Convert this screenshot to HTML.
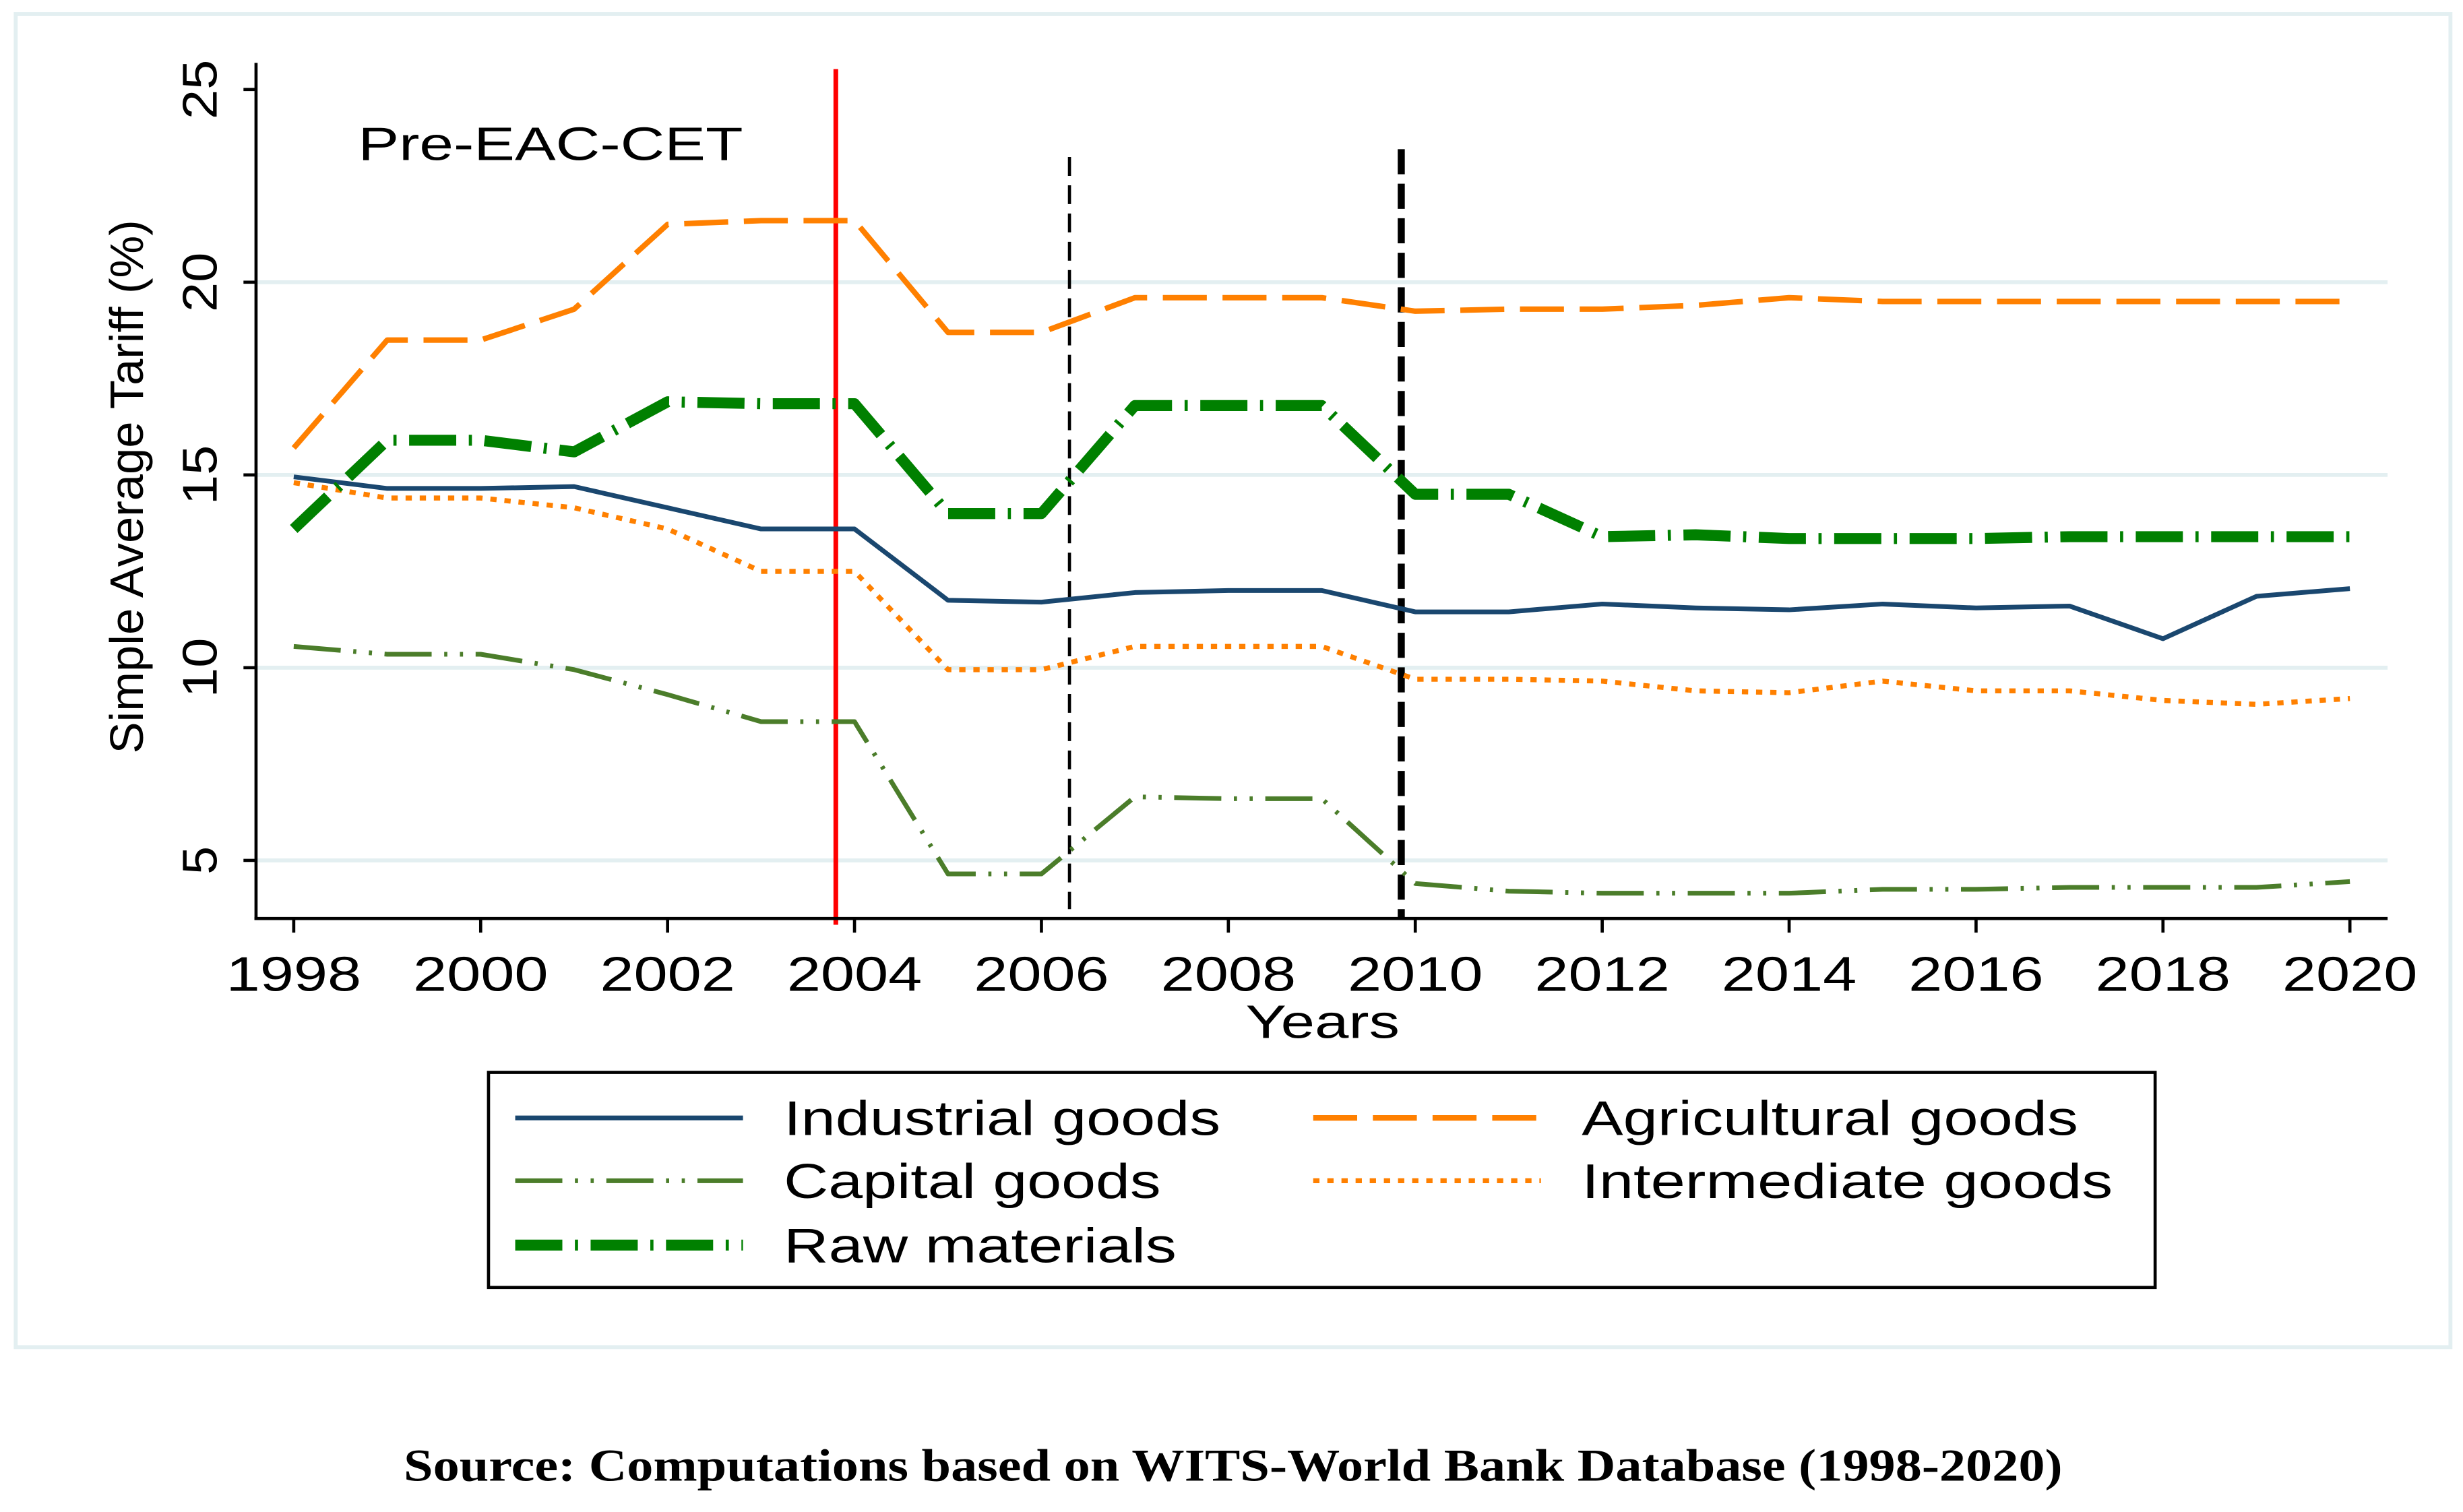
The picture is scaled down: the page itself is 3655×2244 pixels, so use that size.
<!DOCTYPE html>
<html><head><meta charset="utf-8"><style>
html,body{margin:0;padding:0;background:#fff;width:3655px;height:2244px;overflow:hidden}
svg{display:block}
text{font-family:"Liberation Sans",sans-serif;fill:#000}
</style></head><body>
<svg id="chart" width="3655" height="2244" viewBox="0 0 1568 963" preserveAspectRatio="none">
<rect x="10" y="9" width="1550" height="849" fill="#fff" stroke="#e3eff1" stroke-width="2.5"/>
<g id="grid"></g>
<g id="vlines"></g>
<g id="series"></g>
<g id="axes"></g>
<text x="228" y="102" font-size="30" textLength="245" lengthAdjust="spacingAndGlyphs">Pre-EAC-CET</text>
<text x="793" y="661" font-size="30" textLength="98" lengthAdjust="spacingAndGlyphs">Years</text>
<text transform="translate(91,480) rotate(-90)" font-size="30" textLength="340" lengthAdjust="spacingAndGlyphs">Simple Average Tariff (%)</text>
<g>
<rect x="311" y="683" width="1061" height="137" fill="#fff" stroke="#000" stroke-width="2"/>
<g id="legend"></g>
</g>
<text x="257" y="943" font-size="29" font-weight="bold" textLength="1056" lengthAdjust="spacingAndGlyphs" style="font-family:'Liberation Serif',serif">Source: Computations based on WITS-World Bank Database (1998-2020)</text>
</svg>
<script>
const years=[1998,1999,2000,2001,2002,2003,2004,2005,2006,2007,2008,2009,2010,2011,2012,2013,2014,2015,2016,2017,2018,2019,2020];
const industrial=[14.95,14.65,14.65,14.7,14.15,13.6,13.6,11.75,11.7,11.95,12,12,11.45,11.45,11.65,11.55,11.5,11.65,11.55,11.6,10.75,11.85,12.05];
const agricultural=[15.7,18.5,18.5,19.3,21.5,21.6,21.6,18.7,18.7,19.6,19.6,19.6,19.25,19.3,19.3,19.4,19.6,19.5,19.5,19.5,19.5,19.5,19.5];
const capital=[10.55,10.35,10.35,9.95,9.3,8.6,8.6,4.65,4.65,6.65,6.6,6.6,4.4,4.2,4.15,4.15,4.15,4.25,4.25,4.3,4.3,4.3,4.45];
const intermediate=[14.8,14.4,14.4,14.15,13.6,12.5,12.5,9.95,9.95,10.55,10.55,10.55,9.7,9.7,9.65,9.4,9.35,9.65,9.4,9.4,9.15,9.05,9.2];
const rawMaterials=[13.6,15.9,15.9,15.6,16.9,16.85,16.85,14,14,16.8,16.8,16.8,14.5,14.5,13.4,13.45,13.35,13.35,13.35,13.4,13.4,13.4,13.4];
const xTicks=[1998,2000,2002,2004,2006,2008,2010,2012,2014,2016,2018,2020];
const yTicks=[5,10,15,20,25];
const markers=[2003.8,2006.3,2009.85];
const legendLabels=["Industrial goods","Agricultural goods","Capital goods","Intermediate goods","Raw materials"];
const legendWidths=[278,316,240,338,250];

const NS="http://www.w3.org/2000/svg";
const X0=163,X1=1520,Y0=585,Ytop=40;
function xs(yr){return 187+(yr-1998)*(1496-187)/22;}
function ys(v){return 57+(25-v)*(548-57)/20;}
function mk(tag,attrs,parent){const e=document.createElementNS(NS,tag);for(const k in attrs)e.setAttribute(k,attrs[k]);parent.appendChild(e);return e;}
const grid=document.getElementById('grid'),axes=document.getElementById('axes'),ser=document.getElementById('series'),vl=document.getElementById('vlines'),leg=document.getElementById('legend');

yTicks.forEach(v=>{
  if(v<25){const g=mk('line',{x1:X0,x2:X1,y1:ys(v),y2:ys(v),stroke:'#e3eff1','stroke-width':2.5},grid);
  
  }
  const t=mk('line',{x1:X0-8,x2:X0,y1:ys(v),y2:ys(v),stroke:'#000','stroke-width':2},axes);
  
  
  const w=v<10?18:38;
  const l=mk('text',{transform:`translate(${X0-25},${ys(v)+w/2}) rotate(-90)`,'font-size':31,textLength:w,lengthAdjust:'spacingAndGlyphs'},axes);
  l.textContent=v;
  
  
});
xTicks.forEach(yr=>{
  const t=mk('line',{x1:xs(yr),x2:xs(yr),y1:Y0,y2:Y0+9,stroke:'#000','stroke-width':2},axes);
  
  
  const l=mk('text',{x:xs(yr)-43,y:Y0+46,'font-size':31,textLength:86,lengthAdjust:'spacingAndGlyphs'},axes);
  l.textContent=yr;
  
  
});
let a=mk('line',{x1:X0,x2:X0,y1:Ytop,y2:Y0+1,stroke:'#000','stroke-width':2},axes);


a=mk('line',{x1:X0-1,x2:X1,y1:Y0,y2:Y0,stroke:'#000','stroke-width':2},axes);



const styles=[
 {d:industrial,c:'#1a476f',w:3,da:'none',n:'industrial-goods'},
 {d:agricultural,c:'#ff8000',w:3.5,da:'28 10',n:'agricultural-goods'},
 {d:capital,c:'#4b7d2a',w:3,da:'30 8 2 8 2 8',n:'capital-goods'},
 {d:intermediate,c:'#ff8000',w:3.2,da:'4 5',n:'intermediate-goods'},
 {d:rawMaterials,c:'#008000',w:7,da:'30 8 2 8',n:'raw-materials'}
];
styles.forEach(s=>{
  const pts=s.d.map((v,i)=>xs(years[i]).toFixed(1)+','+ys(v).toFixed(1)).join(' ');
  const p=mk('polyline',{points:pts,fill:'none',stroke:s.c,'stroke-width':s.w,'stroke-dasharray':s.da,'stroke-linejoin':'round'},ser);
  
  
});

const mstyle=[{c:'#ff0000',w:3,da:'none',y1:44,y2:589},{c:'#000',w:2,da:'12 6',y1:100,y2:579},{c:'#000',w:4.5,da:'16 6',y1:95,y2:586}];
markers.forEach((m,i)=>{
  const s=mstyle[i];
  const l=mk('line',{x1:xs(m),x2:xs(m),y1:s.y1,y2:s.y2,stroke:s.c,'stroke-width':s.w,'stroke-dasharray':s.da},vl);
  
  
});

const legPos=[[328,712],[836,712],[328,752],[836,752],[328,793]];
legendLabels.forEach((lab,i)=>{
  const s=styles[i],[x,y]=legPos[i];
  const ln=mk('line',{x1:x,x2:x+145,y1:y,y2:y,stroke:s.c,'stroke-width':s.w,'stroke-dasharray':s.da},leg);
  
  
  const t=mk('text',{x:x+171,y:y+11,'font-size':31,textLength:legendWidths[i],lengthAdjust:'spacingAndGlyphs'},leg);
  t.textContent=lab;
  
  
});
</script>
</body></html>
